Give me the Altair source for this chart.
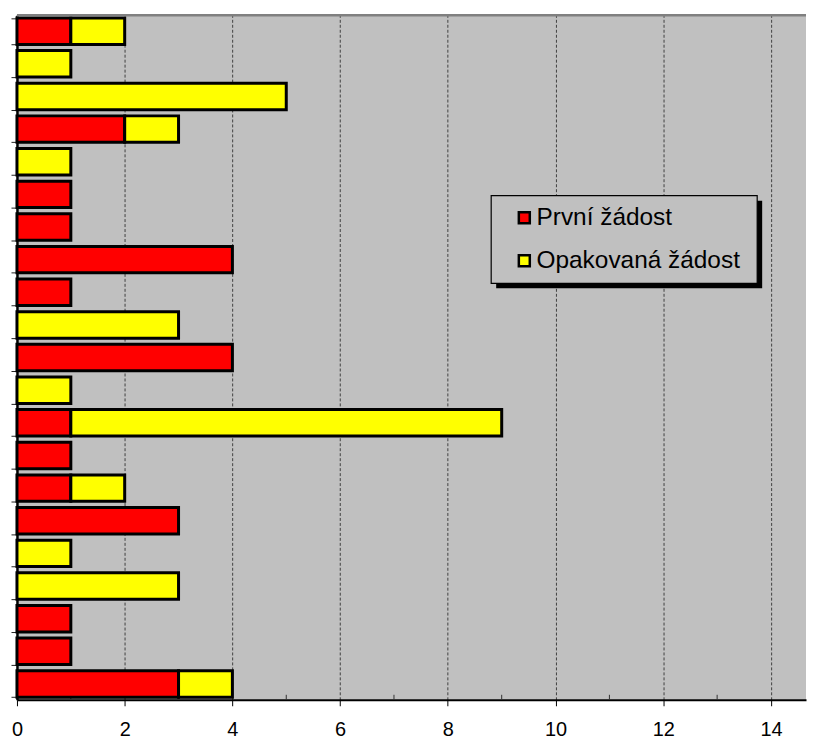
import altair as alt
import pandas as pd

# Data (top to bottom)
rows = list(range(1, 22))
first_req = [1, 0, 0, 2, 0, 1, 1, 4, 1, 0, 4, 0, 1, 1, 1, 3, 0, 0, 1, 1, 3]
repeat_req = [1, 1, 5, 1, 1, 0, 0, 0, 0, 3, 0, 1, 8, 0, 1, 0, 1, 3, 0, 0, 1]
series = ["První žádost", "Opakovaná žádost"]
colors = ["#FF0000", "#FFFF00"]
major_ticks = [0, 2, 4, 6, 8, 10, 12, 14]
minor_ticks = [1, 3, 5, 7, 9, 11, 13]

recs = []
for r, a, b in zip(rows, first_req, repeat_req):
    recs.append({"row": r, "series": series[0], "order": 0, "value": a})
    recs.append({"row": r, "series": series[1], "order": 1, "value": b})
df = pd.DataFrame(recs)

W, H = 792, 687
FONT = "Liberation Sans"

xscale = alt.Scale(domain=[0, 14.65], nice=False, zero=True)

bars = alt.Chart(df).transform_filter("datum.value > 0").mark_bar(
    stroke="black", strokeWidth=3, opacity=1
).encode(
    y=alt.Y("row:O", sort="ascending",
            scale=alt.Scale(paddingInner=0.19, paddingOuter=0.08),
            axis=alt.Axis(title=None, labels=False, tickBand="extent",
                          tickSize=6, tickColor="#222222", tickWidth=1,
                          domainColor="black", domainWidth=2.5, grid=False)),
    x=alt.X("value:Q", stack="zero", scale=xscale,
            axis=alt.Axis(title=None, values=major_ticks, format="d",
                          labelFont=FONT, labelFontSize=20, labelColor="black",
                          labelPadding=14, tickSize=6, tickColor="black",
                          tickWidth=1, domainColor="black", domainWidth=2,
                          grid=True, gridColor="#404040", gridWidth=1,
                          gridDash=[3, 2], labelFlush=False)),
    color=alt.Color("series:N",
                    scale=alt.Scale(domain=series, range=colors),
                    legend=alt.Legend(title=None, orient="none",
                                      legendX=493, legendY=191,
                                      symbolType="square", symbolSize=121,
                                      symbolOffset=4,
                                      symbolStrokeColor="black",
                                      symbolStrokeWidth=2.5, symbolOpacity=1,
                                      labelFont=FONT, labelFontSize=24.5,
                                      labelColor="black", labelOffset=0,
                                      rowPadding=18, padding=0,
                                      labelLimit=400)),
    order=alt.Order("order:Q"),
)

mt = alt.Chart(pd.DataFrame({"t": minor_ticks})).mark_rule(
    color="#333333", strokeWidth=1
).encode(
    x=alt.X("t:Q", scale=xscale),
    y=alt.value(H - 5), y2=alt.value(H),
)

one = pd.DataFrame({"k": [0]})
topline = alt.Chart(one).mark_rule(color="#808080", strokeWidth=2.5).encode(
    x=alt.value(0), x2=alt.value(W), y=alt.value(0)
)
shadow = alt.Chart(one).mark_rect(fill="black").encode(
    x=alt.value(481), x2=alt.value(748), y=alt.value(186), y2=alt.value(274)
)
box = alt.Chart(one).mark_rect(fill="#C0C0C0", stroke="black", strokeWidth=1.2).encode(
    x=alt.value(476), x2=alt.value(743), y=alt.value(181), y2=alt.value(269)
)

chart = alt.layer(mt, bars, topline, shadow, box).properties(
    width=W, height=H,
    padding={"left": 2, "top": 4, "right": 0, "bottom": -2},
).configure_view(
    fill="#C0C0C0", stroke=None
)

chart.save("out.html", embed_options={"renderer": "svg", "actions": False})
